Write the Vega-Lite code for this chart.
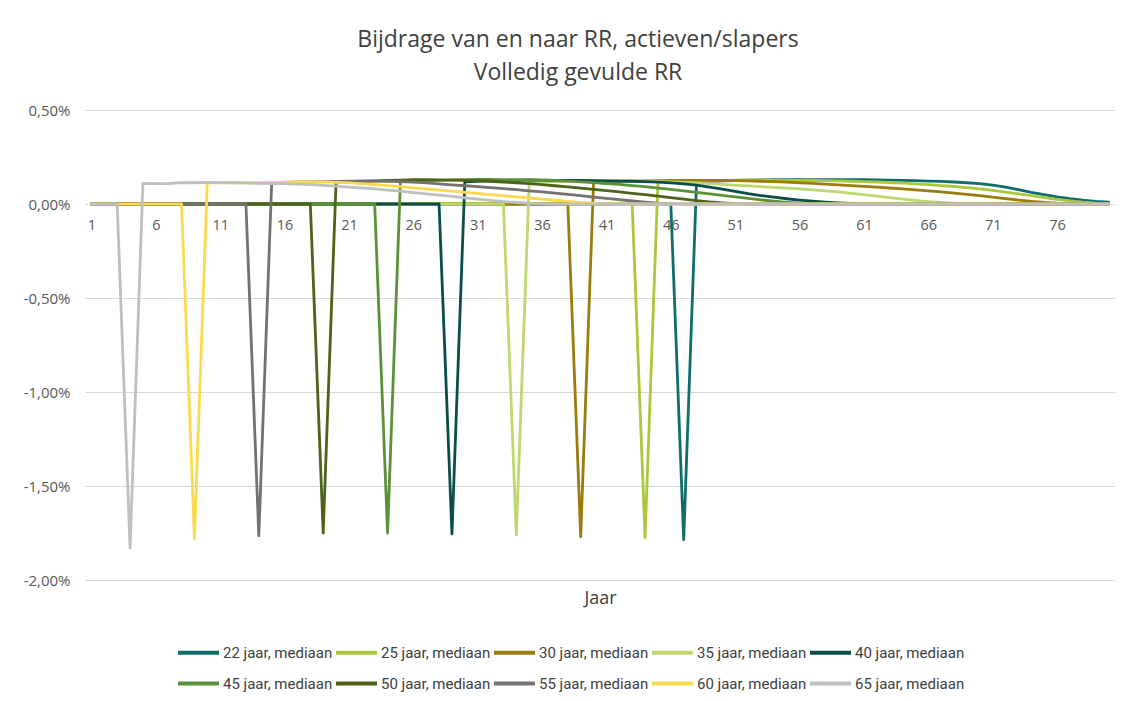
{
"$schema": "https://vega.github.io/schema/vega-lite/v6.json",
"width": 1030, "height": 470,
"autosize": {"type": "none"},
"padding": {"left": 85, "top": 110, "right": 17, "bottom": 121},
"background": "white",
"title": {"text": ["Bijdrage van en naar RR, actieven/slapers", "Volledig gevulde RR"], "fontSize": 23, "font": "Open Sans", "fontWeight": "normal", "color": "#404040", "lineHeight": 33, "offset": 18, "anchor": "middle", "dx": -22},
"config": {
 "locale": {"number": {"decimal": ",", "thousands": ".", "grouping": [3], "currency": ["€", ""], "minus": "-"}},
 "view": {"stroke": null},
 "font": "Open Sans"
},
"data": {"values": [
{"s":22,"j":1,"v":0},{"s":22,"j":2,"v":0},{"s":22,"j":3,"v":0},{"s":22,"j":4,"v":0},{"s":22,"j":5,"v":0},{"s":22,"j":6,"v":0},{"s":22,"j":7,"v":0},{"s":22,"j":8,"v":0},{"s":22,"j":9,"v":0},{"s":22,"j":10,"v":0},
{"s":22,"j":11,"v":0},{"s":22,"j":12,"v":0},{"s":22,"j":13,"v":0},{"s":22,"j":14,"v":0},{"s":22,"j":15,"v":0},{"s":22,"j":16,"v":0},{"s":22,"j":17,"v":0},{"s":22,"j":18,"v":0},{"s":22,"j":19,"v":0},{"s":22,"j":20,"v":0},
{"s":22,"j":21,"v":0},{"s":22,"j":22,"v":0},{"s":22,"j":23,"v":0},{"s":22,"j":24,"v":0},{"s":22,"j":25,"v":0},{"s":22,"j":26,"v":0},{"s":22,"j":27,"v":0},{"s":22,"j":28,"v":0},{"s":22,"j":29,"v":0},{"s":22,"j":30,"v":0},
{"s":22,"j":31,"v":0},{"s":22,"j":32,"v":0},{"s":22,"j":33,"v":0},{"s":22,"j":34,"v":0},{"s":22,"j":35,"v":0},{"s":22,"j":36,"v":0},{"s":22,"j":37,"v":0},{"s":22,"j":38,"v":0},{"s":22,"j":39,"v":0},{"s":22,"j":40,"v":0},
{"s":22,"j":41,"v":0},{"s":22,"j":42,"v":0},{"s":22,"j":43,"v":0},{"s":22,"j":44,"v":0},{"s":22,"j":45,"v":0},{"s":22,"j":46,"v":0},{"s":22,"j":47,"v":-1.785},{"s":22,"j":48,"v":0.118},{"s":22,"j":49,"v":0.121},{"s":22,"j":50,"v":0.123},
{"s":22,"j":51,"v":0.125},{"s":22,"j":52,"v":0.127},{"s":22,"j":53,"v":0.128},{"s":22,"j":54,"v":0.129},{"s":22,"j":55,"v":0.130},{"s":22,"j":56,"v":0.130},{"s":22,"j":57,"v":0.130},{"s":22,"j":58,"v":0.130},{"s":22,"j":59,"v":0.130},{"s":22,"j":60,"v":0.129},
{"s":22,"j":61,"v":0.129},{"s":22,"j":62,"v":0.128},{"s":22,"j":63,"v":0.127},{"s":22,"j":64,"v":0.126},{"s":22,"j":65,"v":0.124},{"s":22,"j":66,"v":0.122},{"s":22,"j":67,"v":0.120},{"s":22,"j":68,"v":0.117},{"s":22,"j":69,"v":0.113},{"s":22,"j":70,"v":0.108},
{"s":22,"j":71,"v":0.100},{"s":22,"j":72,"v":0.090},{"s":22,"j":73,"v":0.076},{"s":22,"j":74,"v":0.062},{"s":22,"j":75,"v":0.050},{"s":22,"j":76,"v":0.038},{"s":22,"j":77,"v":0.028},{"s":22,"j":78,"v":0.020},{"s":22,"j":79,"v":0.014},{"s":22,"j":80,"v":0.010},

{"s":25,"j":1,"v":0},{"s":25,"j":2,"v":0},{"s":25,"j":3,"v":0},{"s":25,"j":4,"v":0},{"s":25,"j":5,"v":0},{"s":25,"j":6,"v":0},{"s":25,"j":7,"v":0},{"s":25,"j":8,"v":0},{"s":25,"j":9,"v":0},{"s":25,"j":10,"v":0},
{"s":25,"j":11,"v":0},{"s":25,"j":12,"v":0},{"s":25,"j":13,"v":0},{"s":25,"j":14,"v":0},{"s":25,"j":15,"v":0},{"s":25,"j":16,"v":0},{"s":25,"j":17,"v":0},{"s":25,"j":18,"v":0},{"s":25,"j":19,"v":0},{"s":25,"j":20,"v":0},
{"s":25,"j":21,"v":0},{"s":25,"j":22,"v":0},{"s":25,"j":23,"v":0},{"s":25,"j":24,"v":0},{"s":25,"j":25,"v":0},{"s":25,"j":26,"v":0},{"s":25,"j":27,"v":0},{"s":25,"j":28,"v":0},{"s":25,"j":29,"v":0},{"s":25,"j":30,"v":0},
{"s":25,"j":31,"v":0},{"s":25,"j":32,"v":0},{"s":25,"j":33,"v":0},{"s":25,"j":34,"v":0},{"s":25,"j":35,"v":0},{"s":25,"j":36,"v":0},{"s":25,"j":37,"v":0},{"s":25,"j":38,"v":0},{"s":25,"j":39,"v":0},{"s":25,"j":40,"v":0},
{"s":25,"j":41,"v":0},{"s":25,"j":42,"v":0},{"s":25,"j":43,"v":0},{"s":25,"j":44,"v":-1.775},{"s":25,"j":45,"v":0.118},{"s":25,"j":46,"v":0.120},{"s":25,"j":47,"v":0.122},{"s":25,"j":48,"v":0.124},{"s":25,"j":49,"v":0.125},{"s":25,"j":50,"v":0.126},
{"s":25,"j":51,"v":0.127},{"s":25,"j":52,"v":0.127},{"s":25,"j":53,"v":0.127},{"s":25,"j":54,"v":0.127},{"s":25,"j":55,"v":0.126},{"s":25,"j":56,"v":0.126},{"s":25,"j":57,"v":0.125},{"s":25,"j":58,"v":0.124},{"s":25,"j":59,"v":0.123},{"s":25,"j":60,"v":0.121},
{"s":25,"j":61,"v":0.119},{"s":25,"j":62,"v":0.117},{"s":25,"j":63,"v":0.114},{"s":25,"j":64,"v":0.111},{"s":25,"j":65,"v":0.107},{"s":25,"j":66,"v":0.103},{"s":25,"j":67,"v":0.098},{"s":25,"j":68,"v":0.093},{"s":25,"j":69,"v":0.087},{"s":25,"j":70,"v":0.080},
{"s":25,"j":71,"v":0.072},{"s":25,"j":72,"v":0.063},{"s":25,"j":73,"v":0.054},{"s":25,"j":74,"v":0.044},{"s":25,"j":75,"v":0.034},{"s":25,"j":76,"v":0.025},{"s":25,"j":77,"v":0.017},{"s":25,"j":78,"v":0.010},{"s":25,"j":79,"v":0.005},{"s":25,"j":80,"v":0.002},

{"s":30,"j":1,"v":0},{"s":30,"j":2,"v":0},{"s":30,"j":3,"v":0},{"s":30,"j":4,"v":0},{"s":30,"j":5,"v":0},{"s":30,"j":6,"v":0},{"s":30,"j":7,"v":0},{"s":30,"j":8,"v":0},{"s":30,"j":9,"v":0},{"s":30,"j":10,"v":0},
{"s":30,"j":11,"v":0},{"s":30,"j":12,"v":0},{"s":30,"j":13,"v":0},{"s":30,"j":14,"v":0},{"s":30,"j":15,"v":0},{"s":30,"j":16,"v":0},{"s":30,"j":17,"v":0},{"s":30,"j":18,"v":0},{"s":30,"j":19,"v":0},{"s":30,"j":20,"v":0},
{"s":30,"j":21,"v":0},{"s":30,"j":22,"v":0},{"s":30,"j":23,"v":0},{"s":30,"j":24,"v":0},{"s":30,"j":25,"v":0},{"s":30,"j":26,"v":0},{"s":30,"j":27,"v":0},{"s":30,"j":28,"v":0},{"s":30,"j":29,"v":0},{"s":30,"j":30,"v":0},
{"s":30,"j":31,"v":0},{"s":30,"j":32,"v":0},{"s":30,"j":33,"v":0},{"s":30,"j":34,"v":0},{"s":30,"j":35,"v":0},{"s":30,"j":36,"v":0},{"s":30,"j":37,"v":0},{"s":30,"j":38,"v":0},{"s":30,"j":39,"v":-1.77},{"s":30,"j":40,"v":0.116},
{"s":30,"j":41,"v":0.118},{"s":30,"j":42,"v":0.120},{"s":30,"j":43,"v":0.122},{"s":30,"j":44,"v":0.123},{"s":30,"j":45,"v":0.124},{"s":30,"j":46,"v":0.125},{"s":30,"j":47,"v":0.126},{"s":30,"j":48,"v":0.126},{"s":30,"j":49,"v":0.126},{"s":30,"j":50,"v":0.125},
{"s":30,"j":51,"v":0.124},{"s":30,"j":52,"v":0.123},{"s":30,"j":53,"v":0.121},{"s":30,"j":54,"v":0.119},{"s":30,"j":55,"v":0.116},{"s":30,"j":56,"v":0.113},{"s":30,"j":57,"v":0.110},{"s":30,"j":58,"v":0.106},{"s":30,"j":59,"v":0.102},{"s":30,"j":60,"v":0.098},
{"s":30,"j":61,"v":0.094},{"s":30,"j":62,"v":0.090},{"s":30,"j":63,"v":0.085},{"s":30,"j":64,"v":0.080},{"s":30,"j":65,"v":0.075},{"s":30,"j":66,"v":0.070},{"s":30,"j":67,"v":0.064},{"s":30,"j":68,"v":0.058},{"s":30,"j":69,"v":0.051},{"s":30,"j":70,"v":0.044},
{"s":30,"j":71,"v":0.037},{"s":30,"j":72,"v":0.029},{"s":30,"j":73,"v":0.021},{"s":30,"j":74,"v":0.014},{"s":30,"j":75,"v":0.008},{"s":30,"j":76,"v":0.004},{"s":30,"j":77,"v":0.002},{"s":30,"j":78,"v":0},{"s":30,"j":79,"v":0},{"s":30,"j":80,"v":0},

{"s":35,"j":1,"v":0},{"s":35,"j":2,"v":0},{"s":35,"j":3,"v":0},{"s":35,"j":4,"v":0},{"s":35,"j":5,"v":0},{"s":35,"j":6,"v":0},{"s":35,"j":7,"v":0},{"s":35,"j":8,"v":0},{"s":35,"j":9,"v":0},{"s":35,"j":10,"v":0},
{"s":35,"j":11,"v":0},{"s":35,"j":12,"v":0},{"s":35,"j":13,"v":0},{"s":35,"j":14,"v":0},{"s":35,"j":15,"v":0},{"s":35,"j":16,"v":0},{"s":35,"j":17,"v":0},{"s":35,"j":18,"v":0},{"s":35,"j":19,"v":0},{"s":35,"j":20,"v":0},
{"s":35,"j":21,"v":0},{"s":35,"j":22,"v":0},{"s":35,"j":23,"v":0},{"s":35,"j":24,"v":0},{"s":35,"j":25,"v":0},{"s":35,"j":26,"v":0},{"s":35,"j":27,"v":0},{"s":35,"j":28,"v":0},{"s":35,"j":29,"v":0},{"s":35,"j":30,"v":0},
{"s":35,"j":31,"v":0},{"s":35,"j":32,"v":0},{"s":35,"j":33,"v":0},{"s":35,"j":34,"v":-1.76},{"s":35,"j":35,"v":0.115},{"s":35,"j":36,"v":0.117},{"s":35,"j":37,"v":0.119},{"s":35,"j":38,"v":0.121},{"s":35,"j":39,"v":0.122},{"s":35,"j":40,"v":0.123},
{"s":35,"j":41,"v":0.124},{"s":35,"j":42,"v":0.124},{"s":35,"j":43,"v":0.123},{"s":35,"j":44,"v":0.122},{"s":35,"j":45,"v":0.120},{"s":35,"j":46,"v":0.118},{"s":35,"j":47,"v":0.115},{"s":35,"j":48,"v":0.112},{"s":35,"j":49,"v":0.108},{"s":35,"j":50,"v":0.104},
{"s":35,"j":51,"v":0.100},{"s":35,"j":52,"v":0.096},{"s":35,"j":53,"v":0.092},{"s":35,"j":54,"v":0.088},{"s":35,"j":55,"v":0.084},{"s":35,"j":56,"v":0.080},{"s":35,"j":57,"v":0.075},{"s":35,"j":58,"v":0.070},{"s":35,"j":59,"v":0.064},{"s":35,"j":60,"v":0.057},
{"s":35,"j":61,"v":0.050},{"s":35,"j":62,"v":0.042},{"s":35,"j":63,"v":0.034},{"s":35,"j":64,"v":0.026},{"s":35,"j":65,"v":0.019},{"s":35,"j":66,"v":0.013},{"s":35,"j":67,"v":0.008},{"s":35,"j":68,"v":0.004},{"s":35,"j":69,"v":0.002},{"s":35,"j":70,"v":0},
{"s":35,"j":71,"v":0},{"s":35,"j":72,"v":0},{"s":35,"j":73,"v":0},{"s":35,"j":74,"v":0},{"s":35,"j":75,"v":0},{"s":35,"j":76,"v":0},{"s":35,"j":77,"v":0},{"s":35,"j":78,"v":0},{"s":35,"j":79,"v":0},{"s":35,"j":80,"v":0},

{"s":40,"j":1,"v":0},{"s":40,"j":2,"v":0},{"s":40,"j":3,"v":0},{"s":40,"j":4,"v":0},{"s":40,"j":5,"v":0},{"s":40,"j":6,"v":0},{"s":40,"j":7,"v":0},{"s":40,"j":8,"v":0},{"s":40,"j":9,"v":0},{"s":40,"j":10,"v":0},
{"s":40,"j":11,"v":0},{"s":40,"j":12,"v":0},{"s":40,"j":13,"v":0},{"s":40,"j":14,"v":0},{"s":40,"j":15,"v":0},{"s":40,"j":16,"v":0},{"s":40,"j":17,"v":0},{"s":40,"j":18,"v":0},{"s":40,"j":19,"v":0},{"s":40,"j":20,"v":0},
{"s":40,"j":21,"v":0},{"s":40,"j":22,"v":0},{"s":40,"j":23,"v":0},{"s":40,"j":24,"v":0},{"s":40,"j":25,"v":0},{"s":40,"j":26,"v":0},{"s":40,"j":27,"v":0},{"s":40,"j":28,"v":0},{"s":40,"j":29,"v":-1.755},{"s":40,"j":30,"v":0.118},
{"s":40,"j":31,"v":0.121},{"s":40,"j":32,"v":0.123},{"s":40,"j":33,"v":0.125},{"s":40,"j":34,"v":0.126},{"s":40,"j":35,"v":0.127},{"s":40,"j":36,"v":0.127},{"s":40,"j":37,"v":0.126},{"s":40,"j":38,"v":0.126},{"s":40,"j":39,"v":0.125},{"s":40,"j":40,"v":0.124},
{"s":40,"j":41,"v":0.123},{"s":40,"j":42,"v":0.122},{"s":40,"j":43,"v":0.121},{"s":40,"j":44,"v":0.119},{"s":40,"j":45,"v":0.116},{"s":40,"j":46,"v":0.112},{"s":40,"j":47,"v":0.107},{"s":40,"j":48,"v":0.100},{"s":40,"j":49,"v":0.090},{"s":40,"j":50,"v":0.079},
{"s":40,"j":51,"v":0.067},{"s":40,"j":52,"v":0.055},{"s":40,"j":53,"v":0.045},{"s":40,"j":54,"v":0.036},{"s":40,"j":55,"v":0.028},{"s":40,"j":56,"v":0.021},{"s":40,"j":57,"v":0.015},{"s":40,"j":58,"v":0.010},{"s":40,"j":59,"v":0.006},{"s":40,"j":60,"v":0.003},
{"s":40,"j":61,"v":0.001},{"s":40,"j":62,"v":0},{"s":40,"j":63,"v":0},{"s":40,"j":64,"v":0},{"s":40,"j":65,"v":0},{"s":40,"j":66,"v":0},{"s":40,"j":67,"v":0},{"s":40,"j":68,"v":0},{"s":40,"j":69,"v":0},{"s":40,"j":70,"v":0},
{"s":40,"j":71,"v":0},{"s":40,"j":72,"v":0},{"s":40,"j":73,"v":0},{"s":40,"j":74,"v":0},{"s":40,"j":75,"v":0},{"s":40,"j":76,"v":0},{"s":40,"j":77,"v":0},{"s":40,"j":78,"v":0},{"s":40,"j":79,"v":0},{"s":40,"j":80,"v":0},

{"s":45,"j":1,"v":0},{"s":45,"j":2,"v":0},{"s":45,"j":3,"v":0},{"s":45,"j":4,"v":0},{"s":45,"j":5,"v":0},{"s":45,"j":6,"v":0},{"s":45,"j":7,"v":0},{"s":45,"j":8,"v":0},{"s":45,"j":9,"v":0},{"s":45,"j":10,"v":0},
{"s":45,"j":11,"v":0},{"s":45,"j":12,"v":0},{"s":45,"j":13,"v":0},{"s":45,"j":14,"v":0},{"s":45,"j":15,"v":0},{"s":45,"j":16,"v":0},{"s":45,"j":17,"v":0},{"s":45,"j":18,"v":0},{"s":45,"j":19,"v":0},{"s":45,"j":20,"v":0},
{"s":45,"j":21,"v":0},{"s":45,"j":22,"v":0},{"s":45,"j":23,"v":0},{"s":45,"j":24,"v":-1.75},{"s":45,"j":25,"v":0.120},{"s":45,"j":26,"v":0.122},{"s":45,"j":27,"v":0.124},{"s":45,"j":28,"v":0.126},{"s":45,"j":29,"v":0.128},{"s":45,"j":30,"v":0.130},
{"s":45,"j":31,"v":0.131},{"s":45,"j":32,"v":0.131},{"s":45,"j":33,"v":0.130},{"s":45,"j":34,"v":0.130},{"s":45,"j":35,"v":0.129},{"s":45,"j":36,"v":0.127},{"s":45,"j":37,"v":0.125},{"s":45,"j":38,"v":0.122},{"s":45,"j":39,"v":0.118},{"s":45,"j":40,"v":0.114},
{"s":45,"j":41,"v":0.109},{"s":45,"j":42,"v":0.104},{"s":45,"j":43,"v":0.098},{"s":45,"j":44,"v":0.092},{"s":45,"j":45,"v":0.085},{"s":45,"j":46,"v":0.078},{"s":45,"j":47,"v":0.070},{"s":45,"j":48,"v":0.062},{"s":45,"j":49,"v":0.054},{"s":45,"j":50,"v":0.046},
{"s":45,"j":51,"v":0.038},{"s":45,"j":52,"v":0.030},{"s":45,"j":53,"v":0.022},{"s":45,"j":54,"v":0.015},{"s":45,"j":55,"v":0.009},{"s":45,"j":56,"v":0.004},{"s":45,"j":57,"v":0.001},{"s":45,"j":58,"v":0},{"s":45,"j":59,"v":0},{"s":45,"j":60,"v":0},
{"s":45,"j":61,"v":0},{"s":45,"j":62,"v":0},{"s":45,"j":63,"v":0},{"s":45,"j":64,"v":0},{"s":45,"j":65,"v":0},{"s":45,"j":66,"v":0},{"s":45,"j":67,"v":0},{"s":45,"j":68,"v":0},{"s":45,"j":69,"v":0},{"s":45,"j":70,"v":0},
{"s":45,"j":71,"v":0},{"s":45,"j":72,"v":0},{"s":45,"j":73,"v":0},{"s":45,"j":74,"v":0},{"s":45,"j":75,"v":0},{"s":45,"j":76,"v":0},{"s":45,"j":77,"v":0},{"s":45,"j":78,"v":0},{"s":45,"j":79,"v":0},{"s":45,"j":80,"v":0},

{"s":50,"j":1,"v":0},{"s":50,"j":2,"v":0},{"s":50,"j":3,"v":0},{"s":50,"j":4,"v":0},{"s":50,"j":5,"v":0},{"s":50,"j":6,"v":0},{"s":50,"j":7,"v":0},{"s":50,"j":8,"v":0},{"s":50,"j":9,"v":0},{"s":50,"j":10,"v":0},
{"s":50,"j":11,"v":0},{"s":50,"j":12,"v":0},{"s":50,"j":13,"v":0},{"s":50,"j":14,"v":0},{"s":50,"j":15,"v":0},{"s":50,"j":16,"v":0},{"s":50,"j":17,"v":0},{"s":50,"j":18,"v":0},{"s":50,"j":19,"v":-1.75},{"s":50,"j":20,"v":0.117},
{"s":50,"j":21,"v":0.119},{"s":50,"j":22,"v":0.121},{"s":50,"j":23,"v":0.123},{"s":50,"j":24,"v":0.125},{"s":50,"j":25,"v":0.127},{"s":50,"j":26,"v":0.130},{"s":50,"j":27,"v":0.129},{"s":50,"j":28,"v":0.128},{"s":50,"j":29,"v":0.127},{"s":50,"j":30,"v":0.126},
{"s":50,"j":31,"v":0.124},{"s":50,"j":32,"v":0.121},{"s":50,"j":33,"v":0.117},{"s":50,"j":34,"v":0.113},{"s":50,"j":35,"v":0.108},{"s":50,"j":36,"v":0.103},{"s":50,"j":37,"v":0.097},{"s":50,"j":38,"v":0.091},{"s":50,"j":39,"v":0.085},{"s":50,"j":40,"v":0.078},
{"s":50,"j":41,"v":0.071},{"s":50,"j":42,"v":0.064},{"s":50,"j":43,"v":0.057},{"s":50,"j":44,"v":0.050},{"s":50,"j":45,"v":0.042},{"s":50,"j":46,"v":0.034},{"s":50,"j":47,"v":0.026},{"s":50,"j":48,"v":0.018},{"s":50,"j":49,"v":0.011},{"s":50,"j":50,"v":0.006},
{"s":50,"j":51,"v":0.002},{"s":50,"j":52,"v":0},{"s":50,"j":53,"v":0},{"s":50,"j":54,"v":0},{"s":50,"j":55,"v":0},{"s":50,"j":56,"v":0},{"s":50,"j":57,"v":0},{"s":50,"j":58,"v":0},{"s":50,"j":59,"v":0},{"s":50,"j":60,"v":0},
{"s":50,"j":61,"v":0},{"s":50,"j":62,"v":0},{"s":50,"j":63,"v":0},{"s":50,"j":64,"v":0},{"s":50,"j":65,"v":0},{"s":50,"j":66,"v":0},{"s":50,"j":67,"v":0},{"s":50,"j":68,"v":0},{"s":50,"j":69,"v":0},{"s":50,"j":70,"v":0},
{"s":50,"j":71,"v":0},{"s":50,"j":72,"v":0},{"s":50,"j":73,"v":0},{"s":50,"j":74,"v":0},{"s":50,"j":75,"v":0},{"s":50,"j":76,"v":0},{"s":50,"j":77,"v":0},{"s":50,"j":78,"v":0},{"s":50,"j":79,"v":0},{"s":50,"j":80,"v":0},

{"s":55,"j":1,"v":0},{"s":55,"j":2,"v":0},{"s":55,"j":3,"v":0},{"s":55,"j":4,"v":0},{"s":55,"j":5,"v":0},{"s":55,"j":6,"v":0},{"s":55,"j":7,"v":0},{"s":55,"j":8,"v":0},{"s":55,"j":9,"v":0},{"s":55,"j":10,"v":0},
{"s":55,"j":11,"v":0},{"s":55,"j":12,"v":0},{"s":55,"j":13,"v":0},{"s":55,"j":14,"v":-1.765},{"s":55,"j":15,"v":0.113},{"s":55,"j":16,"v":0.115},{"s":55,"j":17,"v":0.117},{"s":55,"j":18,"v":0.118},{"s":55,"j":19,"v":0.119},{"s":55,"j":20,"v":0.120},
{"s":55,"j":21,"v":0.121},{"s":55,"j":22,"v":0.122},{"s":55,"j":23,"v":0.122},{"s":55,"j":24,"v":0.121},{"s":55,"j":25,"v":0.119},{"s":55,"j":26,"v":0.116},{"s":55,"j":27,"v":0.112},{"s":55,"j":28,"v":0.107},{"s":55,"j":29,"v":0.102},{"s":55,"j":30,"v":0.097},
{"s":55,"j":31,"v":0.092},{"s":55,"j":32,"v":0.087},{"s":55,"j":33,"v":0.082},{"s":55,"j":34,"v":0.076},{"s":55,"j":35,"v":0.070},{"s":55,"j":36,"v":0.064},{"s":55,"j":37,"v":0.058},{"s":55,"j":38,"v":0.051},{"s":55,"j":39,"v":0.044},{"s":55,"j":40,"v":0.037},
{"s":55,"j":41,"v":0.030},{"s":55,"j":42,"v":0.023},{"s":55,"j":43,"v":0.016},{"s":55,"j":44,"v":0.010},{"s":55,"j":45,"v":0.005},{"s":55,"j":46,"v":0.002},{"s":55,"j":47,"v":0},{"s":55,"j":48,"v":0},{"s":55,"j":49,"v":0},{"s":55,"j":50,"v":0},
{"s":55,"j":51,"v":0},{"s":55,"j":52,"v":0},{"s":55,"j":53,"v":0},{"s":55,"j":54,"v":0},{"s":55,"j":55,"v":0},{"s":55,"j":56,"v":0},{"s":55,"j":57,"v":0},{"s":55,"j":58,"v":0},{"s":55,"j":59,"v":0},{"s":55,"j":60,"v":0},
{"s":55,"j":61,"v":0},{"s":55,"j":62,"v":0},{"s":55,"j":63,"v":0},{"s":55,"j":64,"v":0},{"s":55,"j":65,"v":0},{"s":55,"j":66,"v":0},{"s":55,"j":67,"v":0},{"s":55,"j":68,"v":0},{"s":55,"j":69,"v":0},{"s":55,"j":70,"v":0},
{"s":55,"j":71,"v":0},{"s":55,"j":72,"v":0},{"s":55,"j":73,"v":0},{"s":55,"j":74,"v":0},{"s":55,"j":75,"v":0},{"s":55,"j":76,"v":0},{"s":55,"j":77,"v":0},{"s":55,"j":78,"v":0},{"s":55,"j":79,"v":0},{"s":55,"j":80,"v":0},

{"s":60,"j":1,"v":0},{"s":60,"j":2,"v":0},{"s":60,"j":3,"v":0},{"s":60,"j":4,"v":0},{"s":60,"j":5,"v":0},{"s":60,"j":6,"v":0},{"s":60,"j":7,"v":0},{"s":60,"j":8,"v":0},{"s":60,"j":9,"v":-1.78},{"s":60,"j":10,"v":0.112},
{"s":60,"j":11,"v":0.114},{"s":60,"j":12,"v":0.113},{"s":60,"j":13,"v":0.112},{"s":60,"j":14,"v":0.113},{"s":60,"j":15,"v":0.115},{"s":60,"j":16,"v":0.116},{"s":60,"j":17,"v":0.117},{"s":60,"j":18,"v":0.118},{"s":60,"j":19,"v":0.117},{"s":60,"j":20,"v":0.115},
{"s":60,"j":21,"v":0.112},{"s":60,"j":22,"v":0.108},{"s":60,"j":23,"v":0.103},{"s":60,"j":24,"v":0.098},{"s":60,"j":25,"v":0.092},{"s":60,"j":26,"v":0.086},{"s":60,"j":27,"v":0.080},{"s":60,"j":28,"v":0.074},{"s":60,"j":29,"v":0.068},{"s":60,"j":30,"v":0.062},
{"s":60,"j":31,"v":0.056},{"s":60,"j":32,"v":0.050},{"s":60,"j":33,"v":0.044},{"s":60,"j":34,"v":0.038},{"s":60,"j":35,"v":0.032},{"s":60,"j":36,"v":0.026},{"s":60,"j":37,"v":0.020},{"s":60,"j":38,"v":0.014},{"s":60,"j":39,"v":0.009},{"s":60,"j":40,"v":0.005},
{"s":60,"j":41,"v":0.002},{"s":60,"j":42,"v":0},{"s":60,"j":43,"v":0},{"s":60,"j":44,"v":0},{"s":60,"j":45,"v":0},{"s":60,"j":46,"v":0},{"s":60,"j":47,"v":0},{"s":60,"j":48,"v":0},{"s":60,"j":49,"v":0},{"s":60,"j":50,"v":0},
{"s":60,"j":51,"v":0},{"s":60,"j":52,"v":0},{"s":60,"j":53,"v":0},{"s":60,"j":54,"v":0},{"s":60,"j":55,"v":0},{"s":60,"j":56,"v":0},{"s":60,"j":57,"v":0},{"s":60,"j":58,"v":0},{"s":60,"j":59,"v":0},{"s":60,"j":60,"v":0},
{"s":60,"j":61,"v":0},{"s":60,"j":62,"v":0},{"s":60,"j":63,"v":0},{"s":60,"j":64,"v":0},{"s":60,"j":65,"v":0},{"s":60,"j":66,"v":0},{"s":60,"j":67,"v":0},{"s":60,"j":68,"v":0},{"s":60,"j":69,"v":0},{"s":60,"j":70,"v":0},
{"s":60,"j":71,"v":0},{"s":60,"j":72,"v":0},{"s":60,"j":73,"v":0},{"s":60,"j":74,"v":0},{"s":60,"j":75,"v":0},{"s":60,"j":76,"v":0},{"s":60,"j":77,"v":0},{"s":60,"j":78,"v":0},{"s":60,"j":79,"v":0},{"s":60,"j":80,"v":0},

{"s":65,"j":1,"v":0},{"s":65,"j":2,"v":0},{"s":65,"j":3,"v":0},{"s":65,"j":4,"v":-1.83},{"s":65,"j":5,"v":0.110},{"s":65,"j":6,"v":0.108},{"s":65,"j":7,"v":0.109},{"s":65,"j":8,"v":0.114},{"s":65,"j":9,"v":0.113},{"s":65,"j":10,"v":0.115},
{"s":65,"j":11,"v":0.114},{"s":65,"j":12,"v":0.113},{"s":65,"j":13,"v":0.112},{"s":65,"j":14,"v":0.110},{"s":65,"j":15,"v":0.109},{"s":65,"j":16,"v":0.108},{"s":65,"j":17,"v":0.106},{"s":65,"j":18,"v":0.103},{"s":65,"j":19,"v":0.099},{"s":65,"j":20,"v":0.095},
{"s":65,"j":21,"v":0.090},{"s":65,"j":22,"v":0.085},{"s":65,"j":23,"v":0.080},{"s":65,"j":24,"v":0.074},{"s":65,"j":25,"v":0.068},{"s":65,"j":26,"v":0.061},{"s":65,"j":27,"v":0.054},{"s":65,"j":28,"v":0.047},{"s":65,"j":29,"v":0.040},{"s":65,"j":30,"v":0.033},
{"s":65,"j":31,"v":0.026},{"s":65,"j":32,"v":0.019},{"s":65,"j":33,"v":0.013},{"s":65,"j":34,"v":0.008},{"s":65,"j":35,"v":0.004},{"s":65,"j":36,"v":0.002},{"s":65,"j":37,"v":0},{"s":65,"j":38,"v":0},{"s":65,"j":39,"v":0},{"s":65,"j":40,"v":0},
{"s":65,"j":41,"v":0},{"s":65,"j":42,"v":0},{"s":65,"j":43,"v":0},{"s":65,"j":44,"v":0},{"s":65,"j":45,"v":0},{"s":65,"j":46,"v":0},{"s":65,"j":47,"v":0},{"s":65,"j":48,"v":0},{"s":65,"j":49,"v":0},{"s":65,"j":50,"v":0},
{"s":65,"j":51,"v":0},{"s":65,"j":52,"v":0},{"s":65,"j":53,"v":0},{"s":65,"j":54,"v":0},{"s":65,"j":55,"v":0},{"s":65,"j":56,"v":0},{"s":65,"j":57,"v":0},{"s":65,"j":58,"v":0},{"s":65,"j":59,"v":0},{"s":65,"j":60,"v":0},
{"s":65,"j":61,"v":0},{"s":65,"j":62,"v":0},{"s":65,"j":63,"v":0},{"s":65,"j":64,"v":0},{"s":65,"j":65,"v":0},{"s":65,"j":66,"v":0},{"s":65,"j":67,"v":0},{"s":65,"j":68,"v":0},{"s":65,"j":69,"v":0},{"s":65,"j":70,"v":0},
{"s":65,"j":71,"v":0},{"s":65,"j":72,"v":0},{"s":65,"j":73,"v":0},{"s":65,"j":74,"v":0},{"s":65,"j":75,"v":0},{"s":65,"j":76,"v":0},{"s":65,"j":77,"v":0},{"s":65,"j":78,"v":0},{"s":65,"j":79,"v":0},{"s":65,"j":80,"v":0}
]},
"mark": {"type": "line", "strokeWidth": 2.8, "strokeJoin": "round", "strokeCap": "round"},
"encoding": {
 "x": {"field": "j", "type": "quantitative",
   "scale": {"domain": [0.5, 80.5], "nice": false, "zero": false},
   "axis": {"values": [1,6,11,16,21,26,31,36,41,46,51,56,61,66,71,76], "offset": -376, "domain": false, "ticks": false, "grid": false,
     "labelPadding": 14, "labelFontSize": 14.5, "labelColor": "#595959", "labelFlush": false,
     "title": "Jaar", "titleY": 394, "titleBaseline": "middle", "titleFontSize": 18, "titleFontWeight": "normal", "titleColor": "#404040"}},
 "y": {"field": "v", "type": "quantitative",
   "scale": {"domain": [-2, 0.5], "nice": false},
   "axis": {"values": [-2, -1.5, -1, -0.5, 0, 0.5], "format": ".2f", "labelExpr": "datum.label + '%'", "domain": false, "ticks": false,
     "gridColor": "#d9d9d9", "gridWidth": 1, "labelPadding": 15, "labelFontSize": 15, "labelColor": "#595959", "title": null}},
 "color": {"field": "s", "type": "nominal",
   "scale": {"domain": [22,25,30,35,40,45,50,55,60,65], "range": ["#0f6e6b","#a9c83c","#9b7b0b","#bcd86f","#0b4d49","#5b9138","#4e6219","#767171","#fdd94f","#bfbfbf"]},
   "legend": {"orient": "none", "legendX": 91, "legendY": 520, "direction": "horizontal", "columns": 5, "title": null,
     "symbolType": "stroke", "symbolSize": 1681, "symbolStrokeWidth": 4, "labelFontSize": 15, "labelFont": "Roboto", "labelColor": "#404040",
     "labelExpr": "datum.label + ' jaar, mediaan'", "labelOffset": 2, "columnPadding": -5, "rowPadding": -15, "gridAlign": "all", "labelLimit": 0}}
}
}
